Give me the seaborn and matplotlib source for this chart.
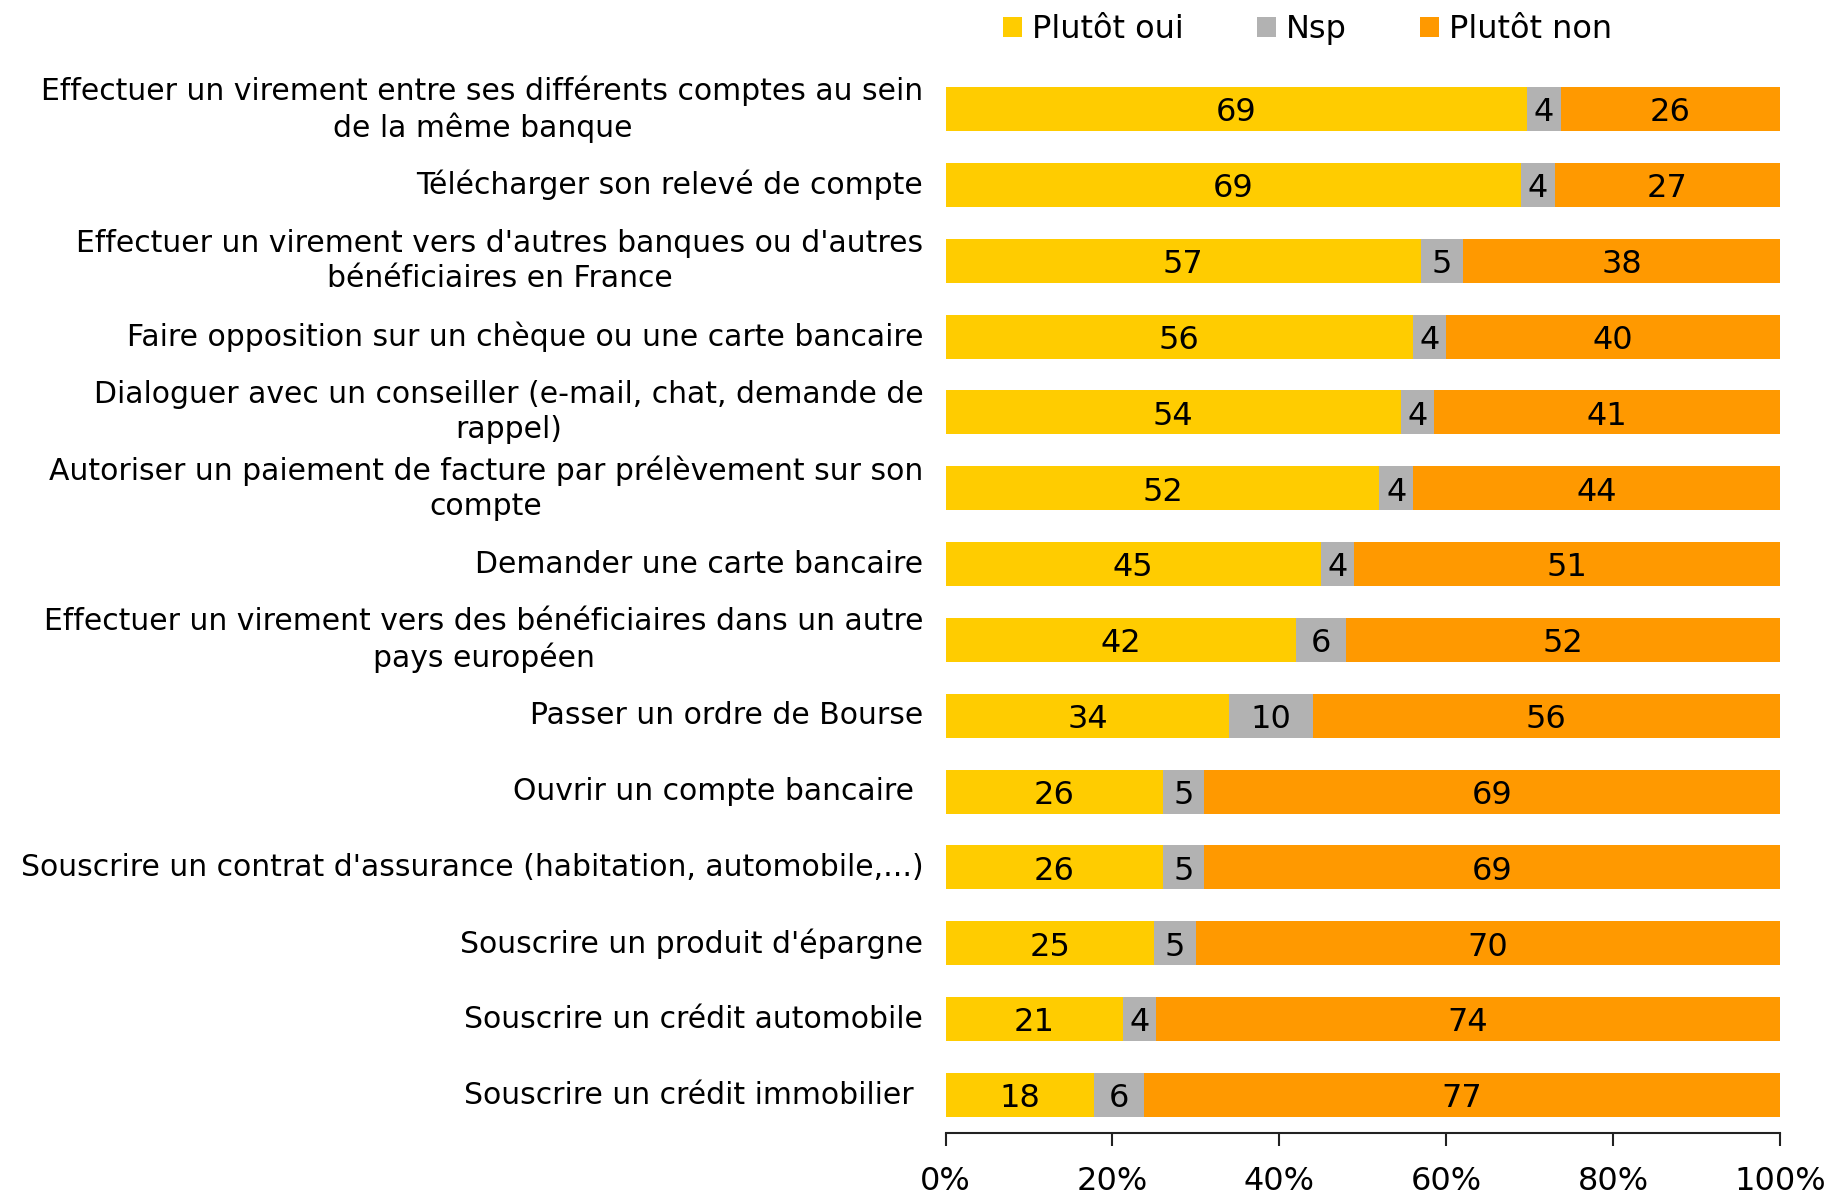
import numpy as np
import pandas as pd
import matplotlib
matplotlib.use('Agg')
import matplotlib.pyplot as plt
from matplotlib.patches import Patch
import seaborn as sns

"""stacked horizontal bars (normalised to 100%) of what people would do online with their bank"""

categories = [
    "Effectuer un virement entre ses différents comptes au sein\nde la même banque",
    "Télécharger son relevé de compte",
    "Effectuer un virement vers d'autres banques ou d'autres\nbénéficiaires en France",
    "Faire opposition sur un chèque ou une carte bancaire",
    "Dialoguer avec un conseiller (e-mail, chat, demande de\nrappel)",
    "Autoriser un paiement de facture par prélèvement sur son\ncompte",
    "Demander une carte bancaire",
    "Effectuer un virement vers des bénéficiaires dans un autre\npays européen",
    "Passer un ordre de Bourse",
    "Ouvrir un compte bancaire ",
    "Souscrire un contrat d'assurance (habitation, automobile,...)",
    "Souscrire un produit d'épargne",
    "Souscrire un crédit automobile",
    "Souscrire un crédit immobilier ",
]
plutot_oui = [69, 69, 57, 56, 54, 52, 45, 42, 34, 26, 26, 25, 21, 18]
nsp = [4, 4, 5, 4, 4, 4, 4, 6, 10, 5, 5, 5, 4, 6]
plutot_non = [26, 27, 38, 40, 41, 44, 51, 52, 56, 69, 69, 70, 74, 77]
series_names = ['Plutôt oui', 'Nsp', 'Plutôt non']
colors = ['#FFCC00', '#B2B2B2', '#FF9900']
ticks = [0, 20, 40, 60, 80, 100]


def main():
    df = pd.DataFrame({'cat': categories, 'oui': plutot_oui, 'nsp': nsp, 'non': plutot_non})
    total = df[['oui', 'nsp', 'non']].sum(axis=1)
    # bars are drawn as share of the row total, so every row ends at 100%
    df['c1'] = df['oui'] / total * 100
    df['c2'] = (df['oui'] + df['nsp']) / total * 100
    df['c3'] = 100.0

    sns.set_style('white')
    plt.rcParams['font.family'] = ['DejaVu Sans']
    plt.rcParams['text.color'] = 'black'
    plt.rcParams['xtick.color'] = 'black'
    plt.rcParams['ytick.color'] = 'black'
    fig = plt.figure(figsize=(18.36, 11.98), dpi=100)
    ax = fig.add_axes([0.515, 0.0543, 0.4545, 0.8864])

    # overlay cumulative bars, widest first
    for col, color in zip(['c3', 'c2', 'c1'], colors[::-1]):
        sns.barplot(data=df, x=col, y='cat', order=categories, orient='h',
                    color=color, width=0.58, saturation=1, ax=ax, linewidth=0)

    starts = [np.zeros(len(df)), df['c1'].values, df['c2'].values]
    ends = [df['c1'].values, df['c2'].values, df['c3'].values]
    raw = [plutot_oui, nsp, plutot_non]
    for s, e, vals in zip(starts, ends, raw):
        for i in range(len(df)):
            ax.text((s[i] + e[i]) / 2, i + 0.05, str(vals[i]), ha='center', va='center',
                    fontsize=23, color='black')

    ax.set_xlim(0, 100)
    ax.set_ylim(len(categories) - 0.5, -0.5)
    ax.set_xticks(ticks)
    ax.set_xticklabels([f'{t}%' for t in ticks], fontsize=23)
    ax.tick_params(axis='x', direction='out', length=9.5, width=1.5, color='#222222', pad=14, bottom=True)
    ax.tick_params(axis='y', length=0, pad=16, labelsize=21.5)
    for lab in ax.get_yticklabels():
        lab.set_multialignment('center')
        lab.set_linespacing(1.25)
        lab.set_verticalalignment('center')
    ax.set_xlabel('')
    ax.set_ylabel('')
    for side in ['left', 'top', 'right']:
        ax.spines[side].set_visible(False)
    ax.spines['bottom'].set_linewidth(1.5)
    ax.spines['bottom'].set_color('#222222')

    handles = [Patch(facecolor=c, edgecolor='none') for c in colors]
    fig.legend(handles, series_names, loc='center', bbox_to_anchor=(0.712, 0.975), ncol=3,
               frameon=False, fontsize=23, handlelength=0.6, handleheight=0.6,
               handletextpad=0.3, columnspacing=2.3)

    fig.savefig('out.png', dpi=100)


main()
